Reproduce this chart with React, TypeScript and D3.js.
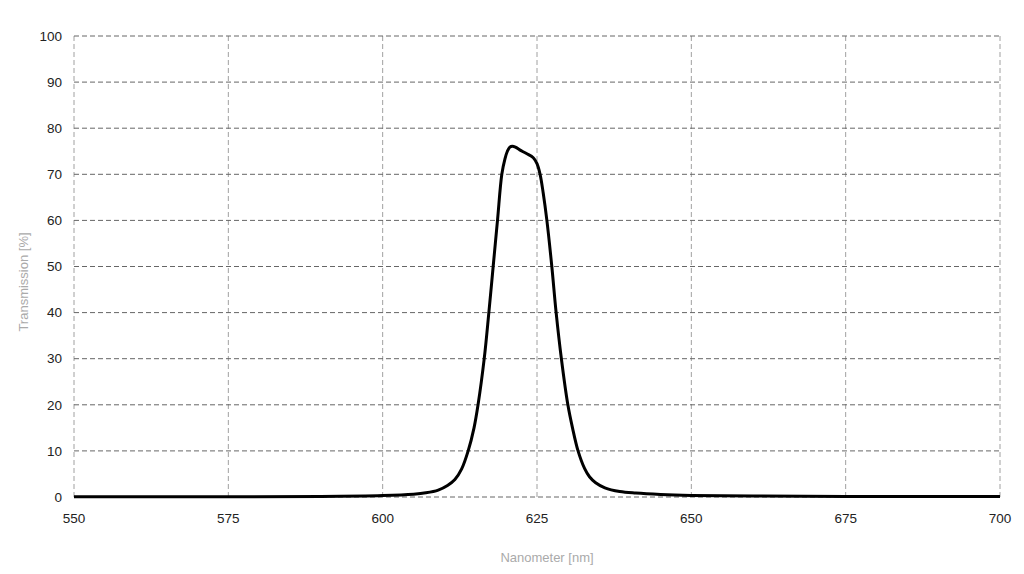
import React from 'react';
import * as d3 from 'd3';

// Transmission curve (wavelength in nm, transmission in %)
const wavelengths = [
	550, 570, 590, 600, 605, 607, 609, 610.5, 611.7, 612.8, 613.85, 614.8, 615.45, 616.45, 617.2,
	617.9, 618.6, 619.3, 619.8, 620.2, 620.6, 621.0, 621.5, 622.2, 623.3, 624.4, 625.0, 625.5,
	626.0, 626.6, 627.4, 628.1, 628.95, 630.0, 630.75, 631.65, 632.7, 633.5, 634.5, 636, 638.4,
	641, 645, 650, 660, 675, 700,
];
const transmission = [
	0.05, 0.05, 0.1, 0.3, 0.6, 0.9, 1.5, 2.5, 3.8, 6.1, 10, 15, 20, 30, 40,
	50, 60, 70, 73.3, 75, 75.9, 76.1, 75.9, 75.3, 74.5, 73.6, 72.3, 70,
	66, 60, 50, 40, 30, 20, 15, 10, 6.2, 4.4, 3.1, 2.0, 1.2,
	0.85, 0.55, 0.35, 0.2, 0.12, 0.1,
];
const xTicks = [550, 575, 600, 625, 650, 675, 700];
const yTicks = [0, 10, 20, 30, 40, 50, 60, 70, 80, 90, 100];

const width = 1024;
const height = 574;
const margin = { top: 36, right: 24, bottom: 77, left: 74 };
const font = '"Liberation Sans", Arial, Helvetica, sans-serif';

export default function App() {
	const x = d3.scaleLinear().domain([550, 700]).range([margin.left, width - margin.right]);
	const y = d3.scaleLinear().domain([0, 100]).range([height - margin.bottom, margin.top]);

	const points: [number, number][] = wavelengths.map((w, i) => [w, transmission[i]]);
	const line = d3.line<[number, number]>()
		.x(d => x(d[0]))
		.y(d => y(d[1]))
		.curve(d3.curveCatmullRom.alpha(0.5));

	return (
		<svg width={width} height={height} style={{ position: 'absolute', left: 0, top: 0, background: '#fff' }}>
			{/* vertical grid */}
			{xTicks.map(t => (
				<line key={'vx' + t} x1={x(t)} x2={x(t)} y1={y(100)} y2={y(0)}
					stroke="#a0a0a0" strokeWidth={1} strokeDasharray="5,3" />
			))}
			{/* horizontal grid */}
			{yTicks.map(t => (
				<line key={'hy' + t} x1={x(550)} x2={x(700)} y1={y(t)} y2={y(t)}
					stroke="#666" strokeWidth={1} strokeDasharray="5,3" />
			))}
			<path d={line(points) ?? ''} fill="none" stroke="#000" strokeWidth={3} strokeLinejoin="round" />
			{yTicks.map(t => (
				<text key={'ly' + t} x={62} y={y(t)} dy="0.35em" textAnchor="end"
					fontFamily={font} fontSize={13.5} fill="#222">{t}</text>
			))}
			{xTicks.map(t => (
				<text key={'lx' + t} x={x(t)} y={523} textAnchor="middle"
					fontFamily={font} fontSize={13.5} fill="#222">{t}</text>
			))}
			<text x={547} y={562} textAnchor="middle" fontFamily={font} fontSize={13} fill="#aaa">
				Nanometer [nm]
			</text>
			<text transform="translate(28,282) rotate(-90)" textAnchor="middle" fontFamily={font}
				fontSize={13} fill="#aaa">
				Transmission [%]
			</text>
		</svg>
	);
}
